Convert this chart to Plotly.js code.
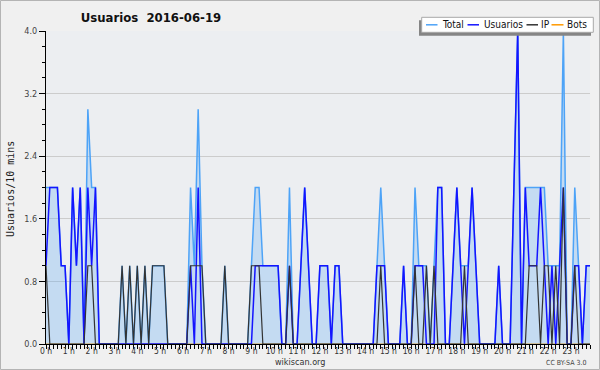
<!DOCTYPE html>
<html>
<head>
<meta charset="utf-8">
<script src="https://cdn.plot.ly/plotly-3.0.1.min.js"></script>
<style>html,body{margin:0;padding:0;background:#f0f0f0;}#chart{width:600px;height:370px;}</style>
</head>
<body>
<div id="chart"></div>
<script>
// 10-minute slots of 2016-06-19
const times = [
 '00:00','00:10','00:20','00:30','00:40','00:50',
 '01:00','01:10','01:20','01:30','01:40','01:50',
 '02:00','02:10','02:20','02:30','02:40','02:50',
 '03:00','03:10','03:20','03:30','03:40','03:50',
 '04:00','04:10','04:20','04:30','04:40','04:50',
 '05:00','05:10','05:20','05:30','05:40','05:50',
 '06:00','06:10','06:20','06:30','06:40','06:50',
 '07:00','07:10','07:20','07:30','07:40','07:50',
 '08:00','08:10','08:20','08:30','08:40','08:50',
 '09:00','09:10','09:20','09:30','09:40','09:50',
 '10:00','10:10','10:20','10:30','10:40','10:50',
 '11:00','11:10','11:20','11:30','11:40','11:50',
 '12:00','12:10','12:20','12:30','12:40','12:50',
 '13:00','13:10','13:20','13:30','13:40','13:50',
 '14:00','14:10','14:20','14:30','14:40','14:50',
 '15:00','15:10','15:20','15:30','15:40','15:50',
 '16:00','16:10','16:20','16:30','16:40','16:50',
 '17:00','17:10','17:20','17:30','17:40','17:50',
 '18:00','18:10','18:20','18:30','18:40','18:50',
 '19:00','19:10','19:20','19:30','19:40','19:50',
 '20:00','20:10','20:20','20:30','20:40','20:50',
 '21:00','21:10','21:20','21:30','21:40','21:50',
 '22:00','22:10','22:20','22:30','22:40','22:50',
 '23:00','23:10','23:20','23:30','23:40','23:50'
];

const seriesNames = ['Total', 'Usuarios', 'IP', 'Bots'];

const total = [
 2,2,2,2,1,1, 0,2,1,2,0,3, 2,2,0,0,0,0, 0,0,1,0,1,0,
 1,0,1,0,1,1, 1,1,0,0,0,0, 0,0,2,1,3,1, 0,0,0,0,0,1,
 0,0,0,0,0,0, 1,2,2,1,1,1, 1,1,0,0,2,0, 0,1,2,1,0,0,
 1,1,1,0,1,1, 0,0,0,0,0,0, 0,0,0,1,2,1, 0,0,0,0,1,0,
 0,2,1,1,1,0, 1,2,2,0,0,1, 2,1,1,1,2,1, 0,0,0,0,0,1,
 0,0,0,2,4,0, 2,2,2,2,2,2, 1,1,1,1,4,0, 0,2,1,0,1,1
];
const usuarios = [
 1,2,2,2,1,1, 0,2,1,2,0,2, 1,2,0,0,0,0, 0,0,0,0,0,0,
 0,0,0,0,0,0, 0,0,0,0,0,0, 0,0,1,0,2,0, 0,0,0,0,0,0,
 0,0,0,0,0,0, 0,1,1,1,1,1, 1,1,0,0,1,0, 0,1,2,1,0,0,
 1,1,1,0,1,1, 0,0,0,0,0,0, 0,0,0,1,1,1, 0,0,0,0,1,0,
 0,1,1,1,0,0, 0,2,2,0,0,1, 2,1,0,1,2,1, 0,0,0,0,0,1,
 0,0,0,2,4,0, 2,1,1,1,2,1, 0,1,0,1,2,0, 0,1,1,0,1,1
];
const ip = [
 1,0,0,0,0,0, 0,0,0,0,0,1, 1,0,0,0,0,0, 0,0,1,0,1,0,
 1,0,1,0,1,1, 1,1,0,0,0,0, 0,0,1,1,1,1, 0,0,0,0,0,1,
 0,0,0,0,0,0, 1,1,1,0,0,0, 0,0,0,0,1,0, 0,0,0,0,0,0,
 0,0,0,0,0,0, 0,0,0,0,0,0, 0,0,0,0,1,0, 0,0,0,0,0,0,
 0,1,0,0,1,0, 1,0,0,0,0,0, 0,0,1,0,0,0, 0,0,0,0,0,0,
 0,0,0,0,0,0, 0,1,1,1,0,1, 1,0,1,0,2,0, 0,1,0,0,0,0
];
const bots = [
 0,0,0,0,0,0, 0,0,0,0,0,0, 0,0,0,0,0,0, 0,0,0,0,0,0,
 0,0,0,0,0,0, 0,0,0,0,0,0, 0,0,0,0,0,0, 0,0,0,0,0,0,
 0,0,0,0,0,0, 0,0,0,0,0,0, 0,0,0,0,0,0, 0,0,0,0,0,0,
 0,0,0,0,0,0, 0,0,0,0,0,0, 0,0,0,0,0,0, 0,0,0,0,0,0,
 0,0,0,0,0,0, 0,0,0,0,0,0, 0,0,0,0,0,0, 0,0,0,0,0,0,
 0,0,0,0,0,0, 0,0,0,0,0,0, 0,0,0,0,0,0, 0,0,0,0,0,0
];

const hourTicks = [0,1,2,3,4,5,6,7,8,9,10,11,12,13,14,15,16,17,18,19,20,21,22,23];
const hourLabels = ['0 h','1 h','2 h','3 h','4 h','5 h','6 h','7 h','8 h','9 h','10 h','11 h',
 '12 h','13 h','14 h','15 h','16 h','17 h','18 h','19 h','20 h','21 h','22 h','23 h'];
const yTickVals = [0, 0.8, 1.6, 2.4, 3.2, 4.0];
const yTickText = ['0.0', '0.8', '1.6', '2.4', '3.2', '4.0'];

const titleText = 'Usuarios\u00a0\u00a02016-06-19';
const yTitleText = 'Usuarios/10 mins';
const siteText = 'wikiscan.org';
const licenseText = 'CC BY-SA 3.0';

const colors = {Total: '#4da3f7', Usuarios: '#1414ff', IP: '#333333', Bots: '#ff9900'};

const xh = times.map(t => Number(t.slice(0, 2)) + Number(t.slice(3)) / 60);

const W = 600, H = 370, ML = 46, MR = 10, MT = 31, MB = 26;
const PW = W - ML - MR, PH = H - MT - MB;
const px = x => (x - ML) / PW;
const py = y => (H - MB - y) / PH;

const FONT = '"DejaVu Sans Condensed", "DejaVu Sans", sans-serif';

const traces = [
  {x: xh, y: bots, name: seriesNames[3], mode: 'lines', line: {color: colors.Bots, width: 1.2}},
  {x: xh, y: total, name: seriesNames[0], mode: 'lines', fill: 'tozeroy',
   fillcolor: 'rgba(77,163,247,0.25)', line: {color: colors.Total, width: 1.5}},
  {x: xh, y: usuarios, name: seriesNames[1], mode: 'lines', line: {color: colors.Usuarios, width: 1.5}},
  {x: xh, y: ip, name: seriesNames[2], mode: 'lines', line: {color: colors.IP, width: 1.2}}
];

// manual legend (box with shadow)
const legendItems = [
  {name: seriesNames[0], x0: 426, x1: 437.5, tx: 442},
  {name: seriesNames[1], x0: 467.5, x1: 479, tx: 483.5},
  {name: seriesNames[2], x0: 526.5, x1: 538, tx: 541},
  {name: seriesNames[3], x0: 551.5, x1: 563.5, tx: 567}
];
const legY = 24.8;

const shapes = [
  {type: 'rect', xref: 'paper', yref: 'paper', x0: px(0.5), x1: px(599.5), y0: py(369.5), y1: py(0.5),
   line: {color: '#b4b4b4', width: 1}, fillcolor: 'rgba(0,0,0,0)', layer: 'below'},
  {type: 'rect', xref: 'paper', yref: 'paper', x0: px(419), x1: px(591), y0: py(35.7), y1: py(20.3),
   line: {width: 0}, fillcolor: '#858585', layer: 'above'},
  {type: 'rect', xref: 'paper', yref: 'paper', x0: px(421.7), x1: px(593.3), y0: py(32.3), y1: py(17.3),
   line: {color: '#a8a8a8', width: 1}, fillcolor: '#ffffff', layer: 'above'}
];
const annotations = [
  {xref: 'paper', yref: 'paper', x: px(10), y: py(189), text: yTitleText, textangle: -90, showarrow: false,
   font: {family: '"DejaVu Sans Mono", monospace', size: 10, color: '#222'}, xanchor: 'center', yanchor: 'middle'},
  {xref: 'paper', yref: 'paper', x: px(300), y: py(362), text: siteText, showarrow: false,
   font: {family: FONT, size: 9, color: '#333'}, xanchor: 'center', yanchor: 'middle'},
  {xref: 'paper', yref: 'paper', x: px(588), y: py(362.5), text: licenseText, showarrow: false,
   font: {family: FONT, size: 7, color: '#444'}, xanchor: 'right', yanchor: 'middle'}
];
legendItems.forEach(it => {
  shapes.push({type: 'line', xref: 'paper', yref: 'paper', x0: px(it.x0), x1: px(it.x1), y0: py(legY), y1: py(legY),
    line: {color: colors[it.name], width: 1.5}, layer: 'above'});
  annotations.push({xref: 'paper', yref: 'paper', x: px(it.tx - 1), y: py(legY), text: it.name, showarrow: false,
    font: {family: FONT, size: 10, color: '#111'}, xanchor: 'left', yanchor: 'middle', borderpad: 0});
});

const layout = {
  width: W, height: H,
  margin: {l: ML, r: MR, t: MT, b: MB, pad: 0},
  paper_bgcolor: '#f0f0f0',
  plot_bgcolor: '#eceef1',
  showlegend: false,
  title: {text: titleText, x: 151 / W, xanchor: 'center', xref: 'container',
          y: 1 - 17 / H, yanchor: 'middle', yref: 'container',
          font: {family: FONT, size: 13, weight: 'bold', color: '#111'}},
  xaxis: {
    range: [0, xh[xh.length - 1]], tickmode: 'array', tickvals: hourTicks, ticktext: hourLabels,
    ticks: 'outside', ticklen: 4, tickwidth: 1, tickcolor: '#000',
    showline: true, linecolor: '#000', linewidth: 1, showgrid: false, zeroline: false,
    tickfont: {family: FONT, size: 8.5, color: '#333'}, ticklabelstandoff: -5,
    minor: {tickmode: 'linear', tick0: 0, dtick: 1 / 6, ticks: 'outside', ticklen: 4, tickcolor: '#000', showgrid: false},
    fixedrange: true
  },
  yaxis: {
    range: [0, 4], tickmode: 'array', tickvals: yTickVals, ticktext: yTickText,
    ticks: 'outside', ticklen: 6, tickwidth: 1, tickcolor: '#000',
    showline: true, linecolor: '#000', linewidth: 1,
    showgrid: true, gridcolor: '#cccccc', gridwidth: 1, zeroline: false,
    tickfont: {family: FONT, size: 9, color: '#444'},
    minor: {tickmode: 'linear', tick0: 0, dtick: 0.2, ticks: 'outside', ticklen: 3, tickcolor: '#000', showgrid: false},
    fixedrange: true
  },
  shapes: shapes,
  annotations: annotations
};

Plotly.newPlot('chart', traces, layout, {staticPlot: true, displayModeBar: false});
</script>
</body>
</html>
